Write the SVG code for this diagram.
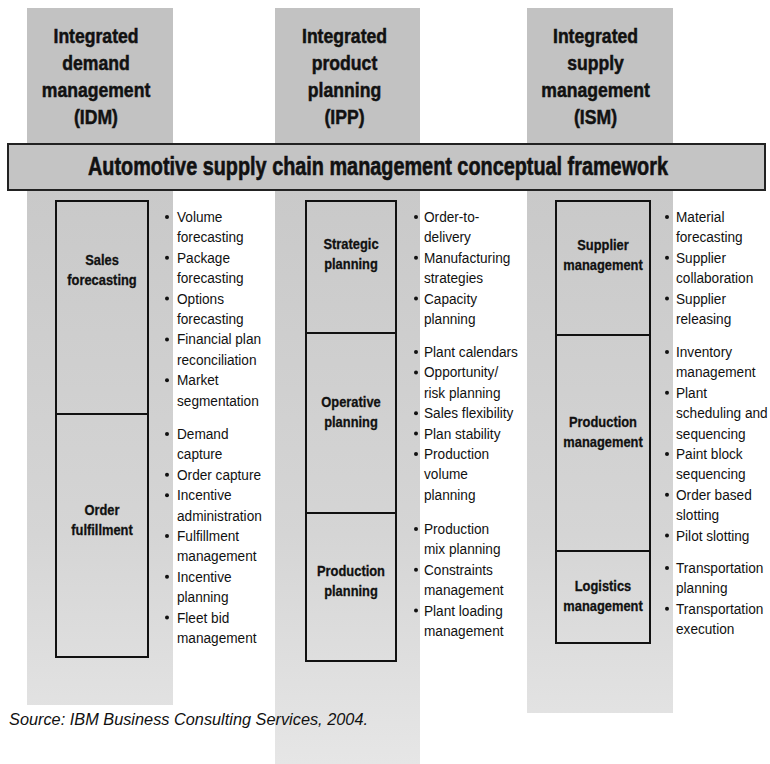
<svg xmlns="http://www.w3.org/2000/svg" width="770" height="764" viewBox="0 0 770 764">
<defs>
<linearGradient id="lower" gradientUnits="userSpaceOnUse" x1="0" y1="190" x2="0" y2="764">
<stop offset="0" stop-color="#c9c9c9"/>
<stop offset="0.6" stop-color="#d5d5d5"/>
<stop offset="1" stop-color="#e6e6e6"/>
</linearGradient>
<style>
.top{fill:#c2c2c2}
.low{fill:url(#lower)}
.box{fill:none;stroke:#111;stroke-width:2}
.banner{fill:#c4c4c4;stroke:#222;stroke-width:2}
.hd{font-family:"Liberation Sans",Arial,sans-serif;font-weight:bold;font-size:20px;text-anchor:middle;fill:#111;stroke:#111;stroke-width:0.5}
.lb{font-family:"Liberation Sans",Arial,sans-serif;font-weight:bold;font-size:15px;text-anchor:middle;fill:#111;stroke:#111;stroke-width:0.3}
.li{font-family:"Liberation Sans",Arial,sans-serif;font-size:15.5px;fill:#111}
.bt{fill:#111}
.ban{font-family:"Liberation Sans",Arial,sans-serif;font-weight:bold;font-size:25px;text-anchor:middle;fill:#111;stroke:#111;stroke-width:0.6}
.src{font-family:"Liberation Sans",Arial,sans-serif;font-style:italic;font-size:16.5px;fill:#111}
</style>
</defs>
<rect width="770" height="764" fill="#ffffff"/>

<!-- column bands -->
<rect class="top" x="27" y="8" width="146" height="136"/>
<rect class="low" x="27" y="189" width="146" height="516"/>
<rect class="top" x="275" y="8" width="145" height="136"/>
<rect class="low" x="275" y="189" width="145" height="575"/>
<rect class="top" x="527" y="8" width="146" height="136"/>
<rect class="low" x="527" y="189" width="146" height="524"/>

<!-- headers -->
<g id="idm">
<g transform="translate(96 0) scale(0.88 1)">
<text class="hd"><tspan x="0" y="43">Integrated</tspan><tspan x="0" y="70">demand</tspan><tspan x="0" y="97">management</tspan><tspan x="0" y="124">(IDM)</tspan></text>
</g>
</g>
<g id="ipp">
<g transform="translate(344.5 0) scale(0.88 1)">
<text class="hd"><tspan x="0" y="43">Integrated</tspan><tspan x="0" y="70">product</tspan><tspan x="0" y="97">planning</tspan><tspan x="0" y="124">(IPP)</tspan></text>
</g>
</g>
<g id="ism">
<g transform="translate(595.5 0) scale(0.88 1)">
<text class="hd"><tspan x="0" y="43">Integrated</tspan><tspan x="0" y="70">supply</tspan><tspan x="0" y="97">management</tspan><tspan x="0" y="124">(ISM)</tspan></text>
</g>
</g>

<!-- banner -->
<g id="banner">
<rect class="banner" x="8" y="144" width="757" height="46"/>
<g transform="translate(378 0) scale(0.794 1)">
<text class="ban" x="0" y="175">Automotive supply chain management conceptual framework</text>
</g>
</g>

<!-- IDM boxes -->
<g id="sales-forecasting">
<rect class="box" x="56" y="201" width="92" height="213"/>
<g transform="translate(102 0) scale(0.86 1)"><text class="lb"><tspan x="0" y="265">Sales</tspan><tspan x="0" y="285">forecasting</tspan></text></g>
</g>
<g id="order-fulfillment">
<rect class="box" x="56" y="414" width="92" height="243"/>
<g transform="translate(102 0) scale(0.86 1)"><text class="lb"><tspan x="0" y="515">Order</tspan><tspan x="0" y="535">fulfillment</tspan></text></g>
</g>

<!-- IPP boxes -->
<g id="strategic-planning">
<rect class="box" x="306" y="201" width="90" height="132"/>
<g transform="translate(351 0) scale(0.86 1)"><text class="lb"><tspan x="0" y="249">Strategic</tspan><tspan x="0" y="269">planning</tspan></text></g>
</g>
<g id="operative-planning">
<rect class="box" x="306" y="333" width="90" height="180"/>
<g transform="translate(351 0) scale(0.86 1)"><text class="lb"><tspan x="0" y="407">Operative</tspan><tspan x="0" y="427">planning</tspan></text></g>
</g>
<g id="production-planning">
<rect class="box" x="306" y="513" width="90" height="148"/>
<g transform="translate(351 0) scale(0.86 1)"><text class="lb"><tspan x="0" y="576">Production</tspan><tspan x="0" y="596">planning</tspan></text></g>
</g>

<!-- ISM boxes -->
<g id="supplier-management">
<rect class="box" x="556" y="201" width="94" height="134"/>
<g transform="translate(603 0) scale(0.86 1)"><text class="lb"><tspan x="0" y="250">Supplier</tspan><tspan x="0" y="270">management</tspan></text></g>
</g>
<g id="production-management">
<rect class="box" x="556" y="335" width="94" height="216"/>
<g transform="translate(603 0) scale(0.86 1)"><text class="lb"><tspan x="0" y="427">Production</tspan><tspan x="0" y="447">management</tspan></text></g>
</g>
<g id="logistics-management">
<rect class="box" x="556" y="551" width="94" height="92"/>
<g transform="translate(603 0) scale(0.86 1)"><text class="lb"><tspan x="0" y="591">Logistics</tspan><tspan x="0" y="611">management</tspan></text></g>
</g>

<!-- IDM lists -->
<g id="list-sales-forecasting">
<g class="bt"><circle cx="167" cy="217" r="2"/><circle cx="167" cy="257.8" r="2"/><circle cx="167" cy="298.6" r="2"/><circle cx="167" cy="339.4" r="2"/><circle cx="167" cy="380.2" r="2"/></g>
<g transform="translate(177 0) scale(0.88 1)"><text class="li"><tspan x="0" y="222">Volume</tspan><tspan x="0" y="242.4">forecasting</tspan><tspan x="0" y="262.8">Package</tspan><tspan x="0" y="283.2">forecasting</tspan><tspan x="0" y="303.6">Options</tspan><tspan x="0" y="324">forecasting</tspan><tspan x="0" y="344.4">Financial plan</tspan><tspan x="0" y="364.8">reconciliation</tspan><tspan x="0" y="385.2">Market</tspan><tspan x="0" y="405.6">segmentation</tspan></text></g>
</g>
<g id="list-order-fulfillment">
<g class="bt"><circle cx="167" cy="434" r="2"/><circle cx="167" cy="474.8" r="2"/><circle cx="167" cy="495.2" r="2"/><circle cx="167" cy="536" r="2"/><circle cx="167" cy="576.8" r="2"/><circle cx="167" cy="617.6" r="2"/></g>
<g transform="translate(177 0) scale(0.88 1)"><text class="li"><tspan x="0" y="439">Demand</tspan><tspan x="0" y="459.4">capture</tspan><tspan x="0" y="479.8">Order capture</tspan><tspan x="0" y="500.2">Incentive</tspan><tspan x="0" y="520.6">administration</tspan><tspan x="0" y="541">Fulfillment</tspan><tspan x="0" y="561.4">management</tspan><tspan x="0" y="581.8">Incentive</tspan><tspan x="0" y="602.2">planning</tspan><tspan x="0" y="622.6">Fleet bid</tspan><tspan x="0" y="643">management</tspan></text></g>
</g>

<!-- IPP lists -->
<g id="list-strategic-planning">
<g class="bt"><circle cx="416" cy="217" r="2"/><circle cx="416" cy="257.8" r="2"/><circle cx="416" cy="298.6" r="2"/></g>
<g transform="translate(424 0) scale(0.88 1)"><text class="li"><tspan x="0" y="222">Order-to-</tspan><tspan x="0" y="242.4">delivery</tspan><tspan x="0" y="262.8">Manufacturing</tspan><tspan x="0" y="283.2">strategies</tspan><tspan x="0" y="303.6">Capacity</tspan><tspan x="0" y="324">planning</tspan></text></g>
</g>
<g id="list-operative-planning">
<g class="bt"><circle cx="416" cy="352" r="2"/><circle cx="416" cy="372.4" r="2"/><circle cx="416" cy="413.2" r="2"/><circle cx="416" cy="433.6" r="2"/><circle cx="416" cy="454" r="2"/></g>
<g transform="translate(424 0) scale(0.88 1)"><text class="li"><tspan x="0" y="357">Plant calendars</tspan><tspan x="0" y="377.4">Opportunity/</tspan><tspan x="0" y="397.8">risk planning</tspan><tspan x="0" y="418.2">Sales flexibility</tspan><tspan x="0" y="438.6">Plan stability</tspan><tspan x="0" y="459">Production</tspan><tspan x="0" y="479.4">volume</tspan><tspan x="0" y="499.8">planning</tspan></text></g>
</g>
<g id="list-production-planning">
<g class="bt"><circle cx="416" cy="529" r="2"/><circle cx="416" cy="569.8" r="2"/><circle cx="416" cy="610.6" r="2"/></g>
<g transform="translate(424 0) scale(0.88 1)"><text class="li"><tspan x="0" y="534">Production</tspan><tspan x="0" y="554.4">mix planning</tspan><tspan x="0" y="574.8">Constraints</tspan><tspan x="0" y="595.2">management</tspan><tspan x="0" y="615.6">Plant loading</tspan><tspan x="0" y="636">management</tspan></text></g>
</g>

<!-- ISM lists -->
<g id="list-supplier-management">
<g class="bt"><circle cx="667" cy="217" r="2"/><circle cx="667" cy="257.8" r="2"/><circle cx="667" cy="298.6" r="2"/></g>
<g transform="translate(676 0) scale(0.88 1)"><text class="li"><tspan x="0" y="222">Material</tspan><tspan x="0" y="242.4">forecasting</tspan><tspan x="0" y="262.8">Supplier</tspan><tspan x="0" y="283.2">collaboration</tspan><tspan x="0" y="303.6">Supplier</tspan><tspan x="0" y="324">releasing</tspan></text></g>
</g>
<g id="list-production-management">
<g class="bt"><circle cx="667" cy="352" r="2"/><circle cx="667" cy="392.8" r="2"/><circle cx="667" cy="454" r="2"/><circle cx="667" cy="494.8" r="2"/><circle cx="667" cy="535.6" r="2"/></g>
<g transform="translate(676 0) scale(0.88 1)"><text class="li"><tspan x="0" y="357">Inventory</tspan><tspan x="0" y="377.4">management</tspan><tspan x="0" y="397.8">Plant</tspan><tspan x="0" y="418.2">scheduling and</tspan><tspan x="0" y="438.6">sequencing</tspan><tspan x="0" y="459">Paint block</tspan><tspan x="0" y="479.4">sequencing</tspan><tspan x="0" y="499.8">Order based</tspan><tspan x="0" y="520.2">slotting</tspan><tspan x="0" y="540.6">Pilot slotting</tspan></text></g>
</g>
<g id="list-logistics-management">
<g class="bt"><circle cx="667" cy="568" r="2"/><circle cx="667" cy="608.8" r="2"/></g>
<g transform="translate(676 0) scale(0.88 1)"><text class="li"><tspan x="0" y="573">Transportation</tspan><tspan x="0" y="593.4">planning</tspan><tspan x="0" y="613.8">Transportation</tspan><tspan x="0" y="634.2">execution</tspan></text></g>
</g>

<!-- source -->
<text class="src" x="9" y="725" textLength="359" lengthAdjust="spacingAndGlyphs">Source: IBM Business Consulting Services, 2004.</text>
</svg>
